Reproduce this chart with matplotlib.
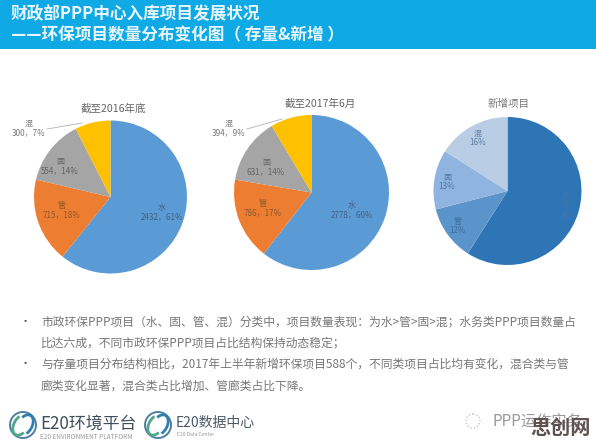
import matplotlib
matplotlib.use('Agg')
import matplotlib.pyplot as plt
from matplotlib.patches import Rectangle, Circle, Arc

plt.rcParams['font.family'] = ['Noto Sans CJK SC', 'DejaVu Sans']

W, H = 596, 446

#pie data
pie_2016 = [2432, 715, 554, 300]
pie_2017 = [2778, 786, 631, 394]
pie_new = [59, 12, 13, 16]

labels_2016 = ['水\n2432，61%', '管\n715，18%', '固\n554，14%', '混\n300，7%']
labels_2017 = ['水\n2778，60%', '管\n786，17%', '固\n631，14%', '混\n394，9%']
labels_new = ['水 59%', '管\n12%', '固\n13%', '混\n16%']

colors_main = ['#5B9BD5', '#ED7D31', '#A5A5A5', '#FFC000']
colors_new = ['#2E75B6', '#5B94CB', '#8FB4E0', '#B9CDE5']

title_1 = '财政部PPP中心入库项目发展状况'
title_2 = '——环保项目数量分布变化图（ 存量&新增 ）'
bullets = [
    '市政环保PPP项目（水、固、管、混）分类中，项目数量表现：为水>管>固>混；水务类PPP项目数量占',
    '比达六成，不同市政环保PPP项目占比结构保持动态稳定；',
    '与存量项目分布结构相比，2017年上半年新增环保项目588个，不同类项目占比均有变化，混合类与管',
    '廊类变化显著，混合类占比增加、管廊类占比下降。',
]

fig = plt.figure(figsize=(W / 100, H / 100), dpi=100, facecolor='white')

#overlay in pixel coords for band, texts and logos
bg = fig.add_axes([0, 0, 1, 1], zorder=3)
bg.set_xlim(0, W)
bg.set_ylim(H, 0)
bg.axis('off')
bg.patch.set_alpha(0)


def draw_pie(values, colors, cx, cy, r):
    ax = fig.add_axes([(cx - r) / W, 1 - (cy + r) / H, 2 * r / W, 2 * r / H], zorder=1)
    ax.pie(values, colors=colors, startangle=90, counterclock=False, radius=1)
    ax.set_xlim(-1, 1)
    ax.set_ylim(-1, 1)


draw_pie(pie_2016, colors_main, 110.5, 197, 76.5)
draw_pie(pie_2017, colors_main, 311.5, 192.5, 77.5)
draw_pie(pie_new, colors_new, 507.5, 191, 74)

#title band
bg.add_patch(Rectangle((0, 0), W, 49, color='#0FA9E6', lw=0))
bg.text(11, 14, title_1, color='#E8F6FC', fontsize=12, weight='bold', va='center')
bg.text(11, 35, title_2, color='#E8F6FC', fontsize=12, weight='bold', va='center')

#pie titles
bg.text(113, 109, '截至2016年底', color='#666666', fontsize=7.6, ha='center', va='center')
bg.text(320, 104, '截至2017年6月', color='#666666', fontsize=7.6, ha='center', va='center')
bg.text(509, 104, '新增项目', color='#777777', fontsize=7.6, ha='center', va='center')

#pie labels
lab = dict(fontsize=5.8, ha='center', va='center', linespacing=1.05)
bg.text(162, 212, labels_2016[0], color='#44607F', **lab)
bg.text(62, 210, labels_2016[1], color='#8A5A30', **lab)
bg.text(60, 166, labels_2016[2], color='#666666', **lab)
bg.text(29, 128, labels_2016[3], color='#777777', **lab)
bg.plot([47, 82], [129, 123], color='#BBBBBB', lw=0.7)

bg.text(352, 210, labels_2017[0], color='#44607F', **lab)
bg.text(263, 208, labels_2017[1], color='#8A5A30', **lab)
bg.text(266, 167, labels_2017[2], color='#666666', **lab)
bg.text(229, 128, labels_2017[3], color='#777777', **lab)
bg.plot([247, 282], [129, 119], color='#BBBBBB', lw=0.7)

bg.text(566, 204, labels_new[0], color='#4A76A0', rotation=90, **lab)
bg.text(458, 226, labels_new[1], color='#3F6E9E', **lab)
bg.text(447, 182, labels_new[2], color='#4F7AA8', **lab)
bg.text(478, 138, labels_new[3], color='#5F7FA5', **lab)

#bullet text
line_y = [322, 343, 364, 386]
for y, line in zip(line_y, bullets):
    bg.text(41, y, line, color='#777777', fontsize=8.5, va='center')
bg.text(25, 322, '•', color='#555555', fontsize=8, ha='center', va='center')
bg.text(25, 364, '•', color='#555555', fontsize=8, ha='center', va='center')


#logo ring, rough version of the two swirl marks
def draw_logo(cx, cy):
    bg.add_patch(Circle((cx, cy), 13, fill=False, ec='#4F7F9F', lw=1.4))
    bg.add_patch(Arc((cx - 2, cy), 14, 22, angle=30, theta1=40, theta2=230, ec='#4FA88A', lw=2))
    bg.add_patch(Arc((cx + 2, cy), 14, 22, angle=30, theta1=220, theta2=50, ec='#2E7FB0', lw=2))


draw_logo(23, 425)
draw_logo(158, 425)
bg.text(40, 424, 'E20环境平台', color='#3F4F5A', fontsize=12.2, va='center')
bg.text(40, 437, 'E20 ENVIRONMENT PLATFORM', color='#999999', fontsize=4.7, va='center')
bg.text(176, 423, 'E20数据中心', color='#4A5A66', fontsize=10, va='center')
bg.text(177, 434, 'E20 Data Center', color='#999999', fontsize=3.6, va='center')

#wechat mark + watermark
bg.add_patch(Circle((473, 421), 7, fill=False, ec='#BBBBBB', lw=0.9, ls=':'))
bg.text(493, 422, 'PPP运作实务', color='#999999', fontsize=11, va='center')
bg.add_patch(Rectangle((527, 417), 69, 29, color='white', alpha=0.75, lw=0))
bg.text(560, 427, '思创网', color='#5E5250', fontsize=14.5, weight='bold', ha='center', va='center')

fig.savefig('out.png', dpi=100)
